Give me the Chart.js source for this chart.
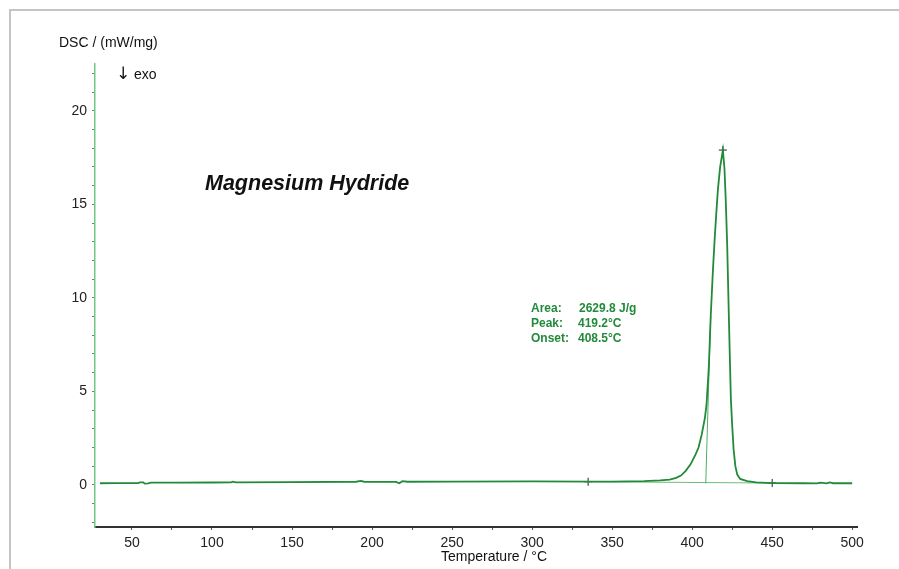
<!DOCTYPE html>
<html>
<head>
<meta charset="utf-8">
<script src="https://cdn.jsdelivr.net/npm/chart.js@4/dist/chart.umd.min.js"></script>
<style>
  body { margin: 0; background: #fff; }
  #wrap { width: 899px; height: 569px; position: relative; }
</style>
</head>
<body>
<div id="wrap"><canvas id="dscChart"></canvas></div>
<script>
// DSC curve (temperature in °C, signal in mW/mg)
const temps = [30, 40, 54, 55, 57, 58, 60, 62, 80, 100, 112, 113, 115, 150, 190, 193, 195, 215, 217, 219, 222, 250, 300, 335, 350, 370, 380, 386, 390, 393, 396, 399, 402, 404, 406, 408, 409, 410.4, 411.6, 413, 414.1, 415, 416.1, 417.5, 419.2, 420.2, 421, 421.9, 422.8, 423.5, 424.2, 425, 425.9, 427, 428.2, 430, 434.4, 440, 450, 470, 478, 480, 484, 486, 488, 500];
const dsc = [0.09, 0.1, 0.1, 0.14, 0.14, 0.07, 0.08, 0.12, 0.12, 0.13, 0.14, 0.17, 0.14, 0.15, 0.17, 0.21, 0.17, 0.16, 0.09, 0.2, 0.17, 0.18, 0.19, 0.18, 0.18, 0.2, 0.24, 0.28, 0.38, 0.5, 0.75, 1.1, 1.6, 2.0, 2.7, 3.6, 4.3, 6.3, 9.0, 11.5, 13.2, 14.4, 15.8, 17.0, 17.9, 16.9, 15.2, 12.8, 9.5, 7.0, 4.6, 3.2, 1.9, 1.0, 0.55, 0.32, 0.2, 0.13, 0.1, 0.09, 0.08, 0.12, 0.08, 0.13, 0.09, 0.09];

// evaluation helpers: onset tangent, integration baseline, marked points
const tangentT = [408.5, 411.6];
const tangentY = [0.08, 9.05];
const baseT = [335, 450];
const baseY = [0.17, 0.1];
const markT = [335, 419.2, 450];
const markY = [0.17, 17.9, 0.1];

const xMin = 26.9, xMax = 503;
const yMin = -2.25, yMax = 22.5;

const labels = ['Area:', 'Peak:', 'Onset:'];
const results = ['2629.8 J/g', '419.2°C', '408.5°C'];

const green = '#228a3a';
const font = '"Liberation Sans", Arial, "DejaVu Sans", sans-serif';

const toPts = (xs, ys) => xs.map((x, i) => ({ x: x, y: ys[i] }));

const textPlugin = {
    id: 'dscText',
    afterDraw(chart) {
        const ctx = chart.ctx;
        ctx.save();
        // outer frame (top / left edges)
        ctx.strokeStyle = '#c4c4c4';
        ctx.lineWidth = 2;
        ctx.beginPath();
        ctx.moveTo(899, 10);
        ctx.lineTo(10, 10);
        ctx.lineTo(10, 569);
        ctx.stroke();

        ctx.fillStyle = '#111';
        ctx.textBaseline = 'middle';
        ctx.textAlign = 'left';
        ctx.font = '14px ' + font;
        ctx.fillText('DSC / (mW/mg)', 59, 43);
        ctx.fillText('exo', 134, 75);
        ctx.font = '17px "DejaVu Sans", sans-serif';
        ctx.fillText('\u2193', 116, 75);

        ctx.font = '14px ' + font;
        ctx.textAlign = 'center';
        ctx.fillText('Temperature / °C', 494, 557);

        ctx.textAlign = 'left';
        ctx.font = 'italic bold 21.5px ' + font;
        ctx.fillText('Magnesium Hydride', 205, 184);

        ctx.fillStyle = green;
        ctx.font = 'bold 12px ' + font;
        labels.forEach((l, i) => {
            ctx.fillText(l, 531, 309 + i * 15);
            ctx.fillText(results[i], i === 0 ? 579 : 578, 309 + i * 15);
        });
        ctx.restore();
    }
};

const ctx = document.getElementById('dscChart').getContext('2d');
const dscChart = new Chart(ctx, {
    type: 'scatter',
    data: {
        datasets: [
            {
                label: 'DSC',
                data: toPts(temps, dsc),
                showLine: true,
                borderColor: green,
                borderWidth: 1.8,
                pointRadius: 0,
                tension: 0
            },
            {
                label: 'tangent',
                data: toPts(tangentT, tangentY),
                showLine: true,
                borderColor: '#4fae62',
                borderWidth: 1,
                pointRadius: 0
            },
            {
                label: 'baseline',
                data: toPts(baseT, baseY),
                showLine: true,
                borderColor: '#6cbc7a',
                borderWidth: 1,
                pointRadius: 0
            },
            {
                label: 'marks',
                data: toPts(markT, markY),
                showLine: false,
                pointStyle: 'cross',
                pointRadius: 4,
                borderColor: '#222',
                borderWidth: 1
            }
        ]
    },
    options: {
        responsive: true,
        maintainAspectRatio: false,
        animation: false,
        layout: { padding: { left: 0, top: 64, right: 42, bottom: 0 } },
        plugins: {
            legend: { display: false },
            tooltip: { enabled: false }
        },
        scales: {
            x: {
                type: 'linear',
                min: xMin,
                max: xMax,
                afterFit: (scale) => { scale.height = 42; },
                border: { display: true, color: '#333', width: 2 },
                grid: { drawOnChartArea: false, drawTicks: true, tickLength: 3, color: '#555' },
                ticks: {
                    stepSize: 25,
                    includeBounds: false,
                    autoSkip: false,
                    maxRotation: 0,
                    padding: 5,
                    color: '#222',
                    font: { family: font, size: 14 },
                    callback: (v) => (v % 50 === 0 ? v : '')
                }
            },
            y: {
                type: 'linear',
                min: yMin,
                max: yMax,
                afterFit: (scale) => { scale.width = 95; },
                border: { display: true, color: '#74c684', width: 1.5 },
                grid: { drawOnChartArea: false, drawTicks: true, tickLength: 3, color: '#3f9f52' },
                ticks: {
                    stepSize: 1,
                    includeBounds: false,
                    autoSkip: false,
                    padding: 5,
                    color: '#222',
                    font: { family: font, size: 14 },
                    callback: (v) => (v % 5 === 0 ? v : '')
                }
            }
        }
    },
    plugins: [textPlugin]
});
</script>
</body>
</html>
